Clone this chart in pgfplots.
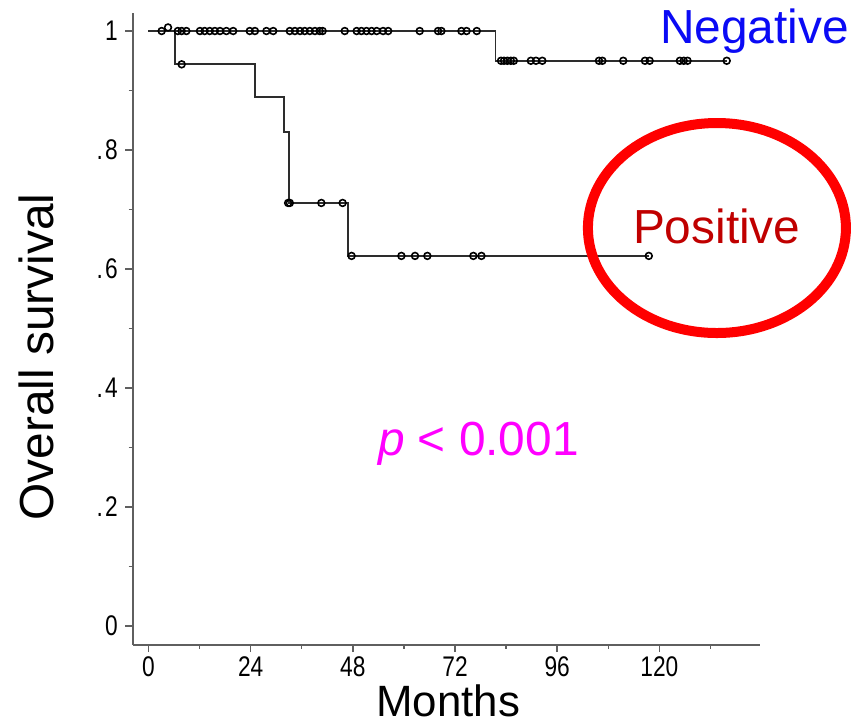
\documentclass[border=0pt]{standalone}
\usepackage{fontspec}
\setmainfont{Liberation Sans}
\newfontfamily\tickfont[FakeStretch=0.8]{Liberation Sans}
\usepackage{pgfplots}
\pgfplotsset{compat=1.18}
\definecolor{negblue}{RGB}{10,10,245}
\definecolor{posred}{RGB}{192,0,0}
\definecolor{pmag}{RGB}{255,0,255}
\definecolor{axgray}{RGB}{95,95,95}
\definecolor{curvec}{RGB}{45,45,45}
\begin{document}
\begin{tikzpicture}
\useasboundingbox (-132.7bp,-83.4bp) rectangle (735.3bp,644.6bp);
\begin{axis}[
  scale only axis, width=626.8bp, height=631.6bp,
  xmin=-3.7, xmax=143.5, ymin=-0.0313, ymax=1.0303,
  axis lines=left,
  axis line style={-, axgray, line width=1.8bp},
  xtick={0,24,48,72,96,120}, minor xtick={12,36,60,84,108,132},
  ytick={0,0.2,0.4,0.6,0.8,1}, minor ytick={0.1,0.3,0.5,0.7,0.9},
  xticklabels={0,24,48,72,96,120},
  yticklabels={0,.\kern2pt2,.\kern2pt4,.\kern2pt6,.\kern2pt8,1},
  tick align=outside,
  major tick length=7.5bp, minor tick length=4bp,
  every tick/.style={axgray, line width=1.5bp},
  tick label style={font=\tickfont\fontsize{28.5}{31}\selectfont, text=black},
  xticklabel style={yshift=-1.5bp},
  yticklabel style={xshift=-4bp},
  clip=false,
]
% step curves
\addplot[const plot, curvec, line width=1.7bp] coordinates {
  (0,1) (81.5,0.95) (135.8,0.95)};
\addplot[const plot, curvec, line width=1.7bp] coordinates {
  (0,1) (6.2,0.944) (25.0,0.889) (31.9,0.830) (33.0,0.711) (46.8,0.622) (117.5,0.622)};
% censor marks, negative
\addplot[only marks, mark=o, mark size=3.4bp, mark options={black, line width=1.6bp, fill=white}] coordinates {
  (3.1,1) (4.6,1.006) (6.9,1) (7.8,1) (8.9,1)
  (12.1,1) (13.2,1) (14.4,1) (15.6,1) (16.8,1) (18.3,1) (19.9,1)
  (23.8,1) (25.0,1) (27.7,1) (29.3,1)
  (33.2,1) (34.4,1) (35.6,1) (36.7,1) (37.9,1) (39.1,1) (40.2,1) (40.9,1)
  (46.1,1) (48.9,1) (50.0,1) (51.2,1) (52.4,1) (53.6,1) (55.1,1) (56.3,1)
  (63.7,1) (68.0,1) (68.8,1) (73.5,1) (74.7,1) (77.1,1)
  (82.8,0.95) (83.5,0.95) (84.3,0.95) (85.1,0.95) (85.8,0.95)
  (89.8,0.95) (91.0,0.95) (92.5,0.95)
  (105.8,0.95) (106.6,0.95) (111.5,0.95) (116.6,0.95) (117.7,0.95)
  (124.8,0.95) (125.7,0.95) (126.6,0.95) (135.8,0.95)};
% censor marks, positive
\addplot[only marks, mark=o, mark size=3.4bp, mark options={black, line width=1.6bp, fill=white}] coordinates {
  (7.8,0.944) (32.8,0.711) (33.2,0.711) (40.6,0.711) (45.6,0.711)
  (47.7,0.622) (59.4,0.622) (62.6,0.622) (65.5,0.622) (76.3,0.622) (78.2,0.622) (117.5,0.622)};
% labels
\node[anchor=base, inner sep=0pt, font=\fontsize{44}{50}\selectfont] at (axis cs:70.41,-0.1529) {Months};
\node[rotate=90, anchor=center, font=\fontsize{48}{52}\selectfont] at (axis cs:-26.2,0.4521) {Overall survival};
\node[anchor=base west, inner sep=0pt, text=negblue, font=\fontsize{48}{52}\selectfont] at (axis cs:120.1,0.9782) {Negative};
\node[anchor=base west, inner sep=0pt, text=posred, font=\fontsize{48}{52}\selectfont] at (axis cs:113.76,0.6437) {Positive};
\node[anchor=base west, inner sep=0pt, text=pmag, font=\fontsize{48}{52}\selectfont] at (axis cs:53.87,0.2857) {\textit{p} {<} 0.001};
\draw[red, line width=10bp] (axis cs:133.5,0.6689) ellipse [x radius=129bp, y radius=105bp];
\end{axis}
\end{tikzpicture}
\end{document}
